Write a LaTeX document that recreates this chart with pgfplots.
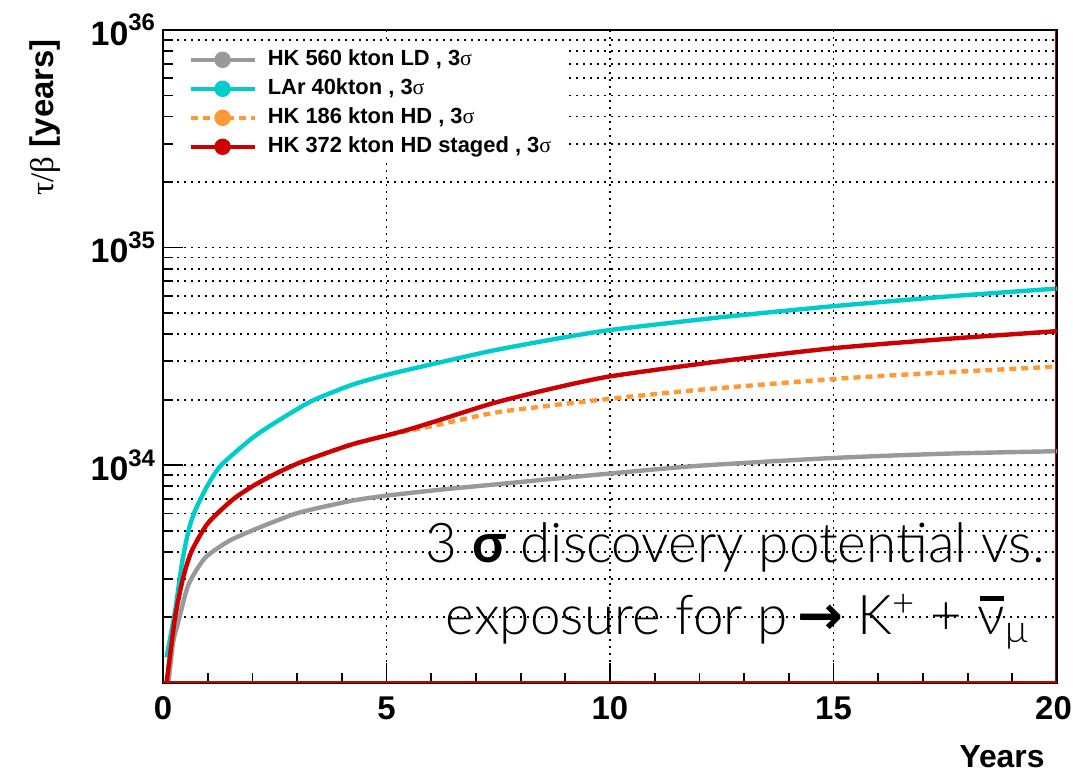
\documentclass[border=0pt]{standalone}
\usepackage{fontspec}
\usepackage{pgfplots}
\pgfplotsset{compat=1.18}
\setmainfont{Liberation Sans}
\newfontfamily\grk{Liberation Serif}
\newfontfamily\thin{Lato Light}
\newfontfamily\lato{Lato}
\newfontfamily\dvs{DejaVu Sans}

\definecolor{cGray}{HTML}{999999}
\definecolor{cCyan}{HTML}{00CCCC}
\definecolor{cOrange}{HTML}{FF9933}
\definecolor{cRed}{HTML}{CC0000}

% power-of-ten tick label in the text font
\newcommand{\tp}[1]{10\raisebox{0.42em}{\fontsize{12}{12}\selectfont #1}}
% nu with a heavy bar
\newcommand{\nubar}{\leavevmode\rlap{\kern0.05em\raisebox{0.62em}{\rule{0.44em}{0.09em}}}ν}

\begin{document}
\begin{tikzpicture}
\begin{axis}[
  scale only axis, width=447bp, height=326.5bp,
  xmin=0, xmax=20, ymode=log, ymin=1e33, ymax=1e36,
  xtick={0,5,10,15,20}, xticklabels={0,5,10,15,{\hspace*{-3.5bp}20}},
  minor xtick={1,2,3,4,6,7,8,9,11,12,13,14,16,17,18,19},
  ytick={1e33,1e34,1e35,1e36}, yticklabels={,\tp{34},\tp{35},\tp{36}},
  minor ytick={2e33,3e33,4e33,5e33,6e33,7e33,8e33,9e33,
               2e34,3e34,4e34,5e34,6e34,7e34,8e34,9e34,
               2e35,3e35,4e35,5e35,6e35,7e35,8e35,9e35},
  tick pos=left, tick align=inside,
  major tick length=10bp, minor tick length=5bp,
  every tick/.style={black, line width=0.9bp},
  axis line style={black, line width=1.1bp},
  xmajorgrids=true, ymajorgrids=true, yminorgrids=true,
  major grid style={black, line width=0.9bp, dash pattern=on 0.9bp off 2.6bp},
  minor grid style={black, line width=0.9bp, dash pattern=on 0.9bp off 2.6bp},
  yticklabel style={font=\fontsize{17}{19}\selectfont\bfseries, xshift=-0.5bp},
  xticklabel style={font=\fontsize{16.5}{18}\selectfont\bfseries, yshift=-3.5bp},
  legend cell align=left,
  legend style={draw=none, fill=white, at={(0,1)}, anchor=north west,
    xshift=6bp, yshift=-6.5bp, inner xsep=6.5bp, inner ysep=2.5bp,
    row sep=3bp, column sep=5.5bp,
    font=\fontsize{11}{13}\selectfont\bfseries,
    nodes={inner sep=0pt, text height=8.5bp, text depth=3bp}},
  legend image code/.code={
    \draw[#1, line width=2.2bp] (0bp,0bp) -- (32bp,0bp);
    \fill[#1, solid] (16bp,0bp) circle (3bp);},
]
% HK 560 kton LD
\addplot[cGray, line width=2.2bp, smooth, tension=0.4] table {
x y
0.12 1.00e33
0.23 1.55e33
0.34 1.90e33
0.57 2.83e33
0.94 3.75e33
1.46 4.47e33
1.95 4.97e33
2.50 5.52e33
3.07 6.08e33
4.19 6.85e33
5.00 7.25e33
6.20 7.72e33
7.40 8.15e33
8.70 8.65e33
10.0 9.16e33
12.0 9.95e33
15.0 1.08e34
17.5 1.13e34
20.0 1.16e34
};
\addlegendentry{HK 560 kton LD , 3{\mdseries\grk σ}}
% LAr 40 kton
\addplot[cCyan, line width=2.2bp, smooth, tension=0.4] table {
x y
0.08 1.31e33
0.27 2.14e33
0.42 3.50e33
0.57 5.00e33
0.72 6.20e33
1.00 8.10e33
1.30 1.00e34
1.95 1.31e34
2.40 1.52e34
3.30 1.96e34
4.20 2.33e34
5.00 2.60e34
6.20 2.97e34
7.40 3.37e34
8.70 3.78e34
10.0 4.18e34
12.5 4.79e34
15.0 5.38e34
17.5 5.95e34
20.0 6.48e34
};
\addlegendentry{LAr 40kton , 3{\mdseries\grk σ}}
% HK 186 kton HD
\addplot[cOrange, line width=2.2bp, dash pattern=on 3.5bp off 2.5bp, smooth, tension=0.4] table {
x y
0.08 1.00e33
0.27 2.00e33
0.45 3.04e33
0.64 4.03e33
1.00 5.40e33
1.54 6.90e33
2.00 8.00e33
2.50 9.10e33
3.07 1.03e34
4.19 1.24e34
5.00 1.37e34
5.50 1.44e34
6.13 1.53e34
7.39 1.74e34
8.66 1.88e34
10.0 2.02e34
12.0 2.22e34
15.0 2.49e34
17.2 2.65e34
20.0 2.84e34
};
\addlegendentry{HK 186 kton HD , 3{\mdseries\grk σ}}
% HK 372 kton HD staged
\addplot[cRed, line width=2.2bp, smooth, tension=0.4] table {
x y
0.08 1.00e33
0.27 2.00e33
0.45 3.04e33
0.64 4.03e33
1.00 5.40e33
1.54 6.90e33
2.00 8.00e33
2.50 9.10e33
3.07 1.03e34
4.19 1.24e34
5.00 1.37e34
5.50 1.46e34
6.13 1.60e34
7.39 1.93e34
8.66 2.24e34
10.0 2.56e34
12.5 3.01e34
15.0 3.45e34
17.5 3.80e34
20.0 4.13e34
};
\addlegendentry{HK 372 kton HD staged , 3{\mdseries\grk σ}}

\draw[cRed, line width=1bp] ([yshift=0.3bp]rel axis cs:0,0) -- ([yshift=0.3bp]rel axis cs:1,0);
\draw[cRed, line width=0.6bp] ([xshift=-0.8bp]rel axis cs:1,0) -- ([xshift=-0.8bp]rel axis cs:1,1);

\node[anchor=base east, inner sep=0, font=\thin\fontsize{27.5}{30}\selectfont]
  at ([xshift=-6bp, yshift=60bp]rel axis cs:1,0) {3 {\lato\bfseries σ} discovery potential vs.};
\node[anchor=base east, inner sep=0, font=\thin\fontsize{27.5}{30}\selectfont]
  at ([xshift=-14bp, yshift=24bp]rel axis cs:1,0)
  {exposure for p{\dvs\bfseries\,→} K\textsuperscript{+} + \nubar\textsubscript{μ}};

\coordinate (bl) at (rel axis cs:0,0);
\coordinate (tl) at (rel axis cs:0,1);
\coordinate (br) at (rel axis cs:1,0);
\end{axis}

\node[rotate=90, anchor=east, inner sep=0, font=\fontsize{16.5}{18}\selectfont]
  at ([xshift=-59bp, yshift=-4.5bp]tl) {{\grk τ/β} \textbf{[years]}};
\node[anchor=base east, inner sep=0, font=\fontsize{16}{18}\selectfont\bfseries]
  at ([xshift=-6bp, yshift=-42bp]br) {Years};

\pgfresetboundingbox
\path[use as bounding box] ([shift={(-81.5bp,-44bp)}]bl) rectangle ([shift={(455bp,341.5bp)}]bl);
\end{tikzpicture}
\end{document}
